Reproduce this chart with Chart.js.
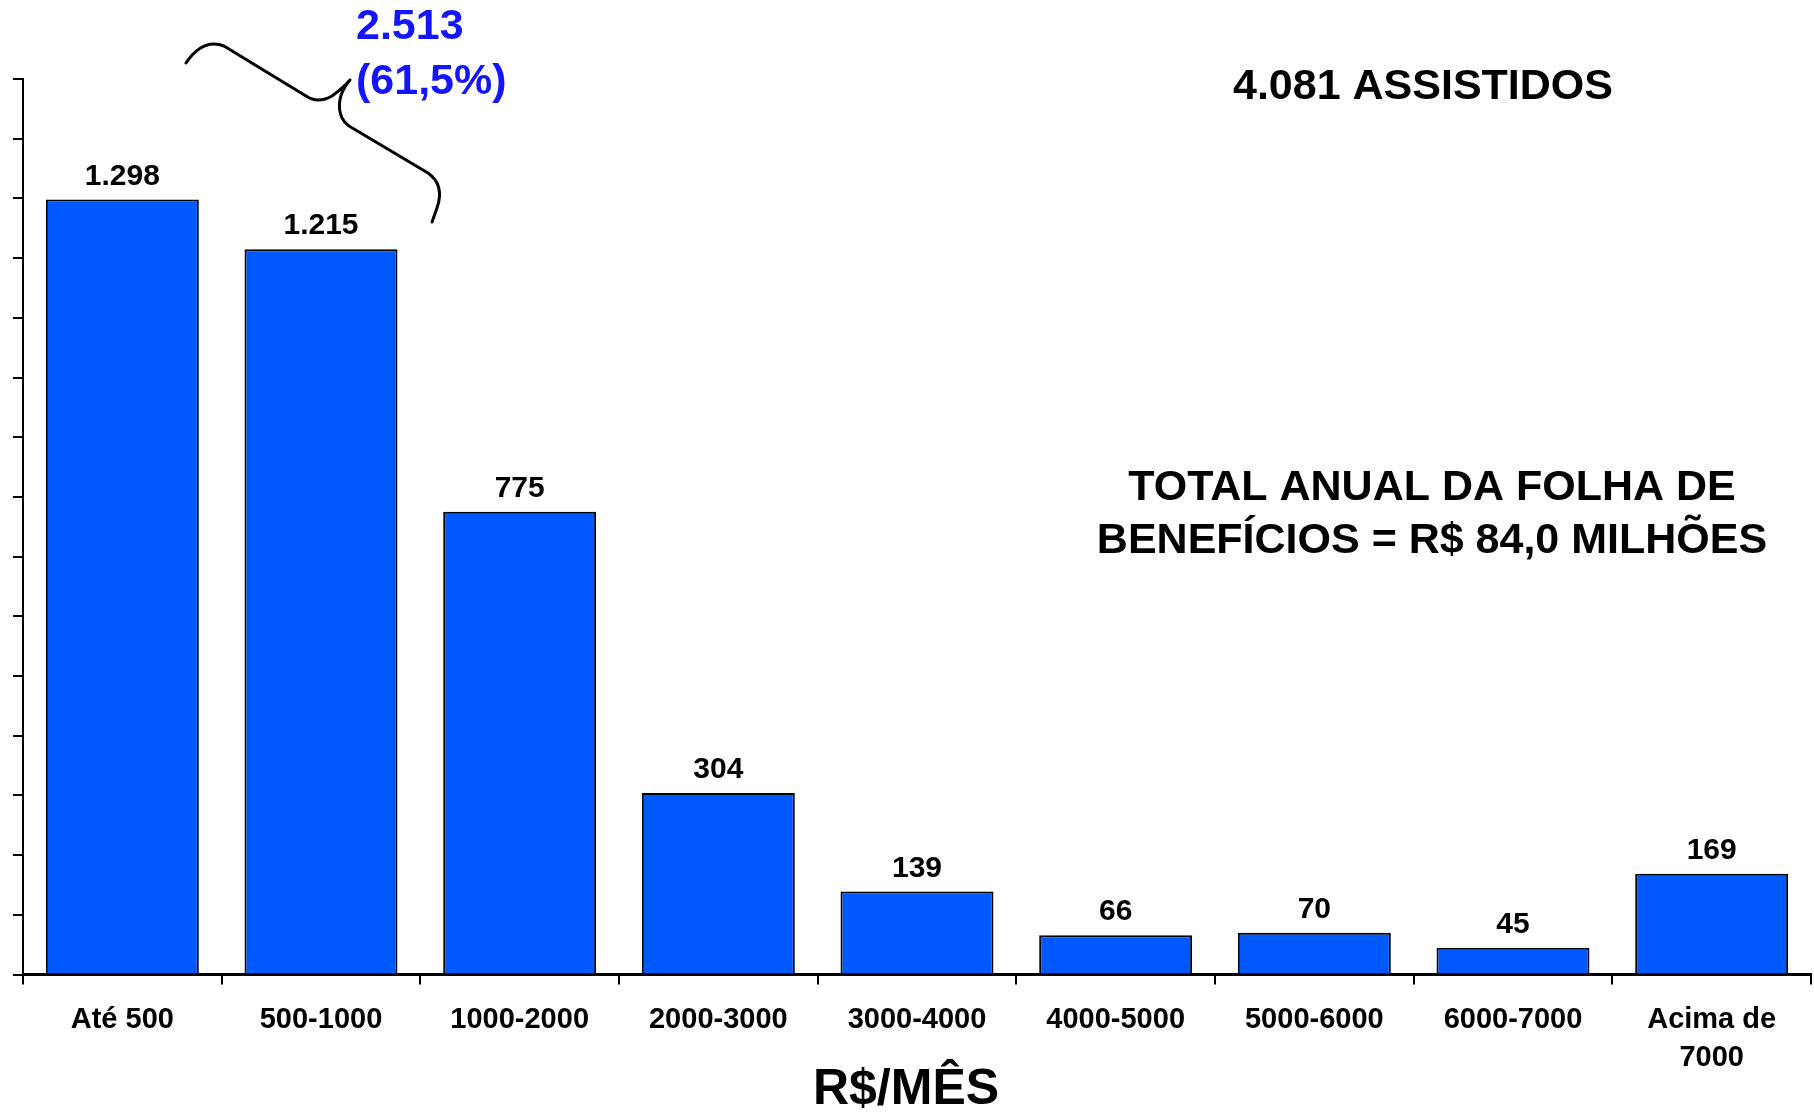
<!DOCTYPE html>
<html>
<head>
<meta charset="utf-8">
<script src="https://cdn.jsdelivr.net/npm/chart.js@4.4.1/dist/chart.umd.min.js"></script>
<style>
  html, body { margin: 0; padding: 0; background: #fff; }
  #wrap { width: 1814px; height: 1118px; }
</style>
</head>
<body>
<div id="wrap"><canvas id="faixaChart" width="1814" height="1118"></canvas></div>
<script>
const faixas = ['Até 500', '500-1000', '1000-2000', '2000-3000', '3000-4000',
                '4000-5000', '5000-6000', '6000-7000', ['Acima de', '7000']];
const assistidos = [1298, 1215, 775, 304, 139, 66, 70, 45, 169];
const yMax = 1500;
const yStep = 100;

const FONT = "'Liberation Sans', Arial, Helvetica, sans-serif";
const barBlue = '#0058ff';
const noteBlue = '#1414ff';

// 1298 -> "1.298"
function fmt(n) {
    return String(n).replace(/\B(?=(\d{3})+(?!\d))/g, '.');
}

const valueLabels = {
    id: 'valueLabels',
    afterDatasetsDraw(chart) {
        const ctx = chart.ctx;
        const meta = chart.getDatasetMeta(0);
        ctx.save();
        ctx.font = 'bold 30px ' + FONT;
        ctx.fillStyle = '#000';
        ctx.textAlign = 'center';
        ctx.textBaseline = 'middle';
        meta.data.forEach((bar, i) => {
            ctx.fillText(fmt(assistidos[i]), bar.x, bar.y - 23);
        });
        ctx.restore();
    }
};

// brace, axis title and text notes
const notes = {
    id: 'notes',
    afterDraw(chart) {
        const ctx = chart.ctx;
        ctx.save();
        ctx.strokeStyle = '#000';
        ctx.lineWidth = 3;
        ctx.lineCap = 'round';
        ctx.lineJoin = 'round';
        ctx.beginPath();
        ctx.moveTo(186, 63);
        ctx.quadraticCurveTo(203, 38, 224, 46);
        ctx.lineTo(306, 96);
        ctx.quadraticCurveTo(318, 104, 332, 96);
        ctx.quadraticCurveTo(343, 88, 350, 80);
        ctx.moveTo(350, 80);
        ctx.quadraticCurveTo(337, 95, 340, 112);
        ctx.quadraticCurveTo(342, 123, 354, 129);
        ctx.lineTo(428, 173);
        ctx.quadraticCurveTo(445, 185, 437, 208);
        ctx.lineTo(432, 222);
        ctx.stroke();

        ctx.font = 'bold 43px ' + FONT;
        ctx.fillStyle = noteBlue;
        ctx.textAlign = 'left';
        ctx.textBaseline = 'middle';
        ctx.fillText('2.513', 356, 27);
        ctx.fillText('(61,5%)', 356, 82);

        ctx.fillStyle = '#000';
        ctx.textAlign = 'center';
        ctx.fillText('4.081 ASSISTIDOS', 1423, 87);
        ctx.fillText('TOTAL ANUAL DA FOLHA DE', 1432, 488);
        ctx.fillText('BENEFÍCIOS = R$ 84,0 MILHÕES', 1432, 541);

        ctx.font = 'bold 50px ' + FONT;
        ctx.fillText('R$/MÊS', 906, 1090);
        ctx.restore();
    }
};

const ctx = document.getElementById('faixaChart').getContext('2d');
new Chart(ctx, {
    type: 'bar',
    data: {
        labels: faixas,
        datasets: [{
            data: assistidos,
            backgroundColor: barBlue,
            borderColor: '#000',
            borderWidth: 2,
            barPercentage: 0.77,
            categoryPercentage: 1.0
        }]
    },
    options: {
        responsive: false,
        animation: false,
        layout: { padding: { top: 79, left: 13, right: 3, bottom: 24 } },
        plugins: { legend: { display: false }, tooltip: { enabled: false } },
        scales: {
            x: {
                grid: { drawOnChartArea: false, color: '#000', lineWidth: 2, tickLength: 10 },
                border: { display: true, color: '#000', width: 3 },
                ticks: {
                    color: '#000',
                    font: { family: FONT, size: 29, weight: 'bold', lineHeight: 1.3 },
                    padding: 17,
                    maxRotation: 0,
                    autoSkip: false
                }
            },
            y: {
                min: 0,
                max: yMax,
                grid: { drawOnChartArea: false, color: '#000', lineWidth: 2, tickLength: 10 },
                border: { display: true, color: '#000', width: 2 },
                ticks: { display: false, stepSize: yStep }
            }
        }
    },
    plugins: [valueLabels, notes]
});
</script>
</body>
</html>
